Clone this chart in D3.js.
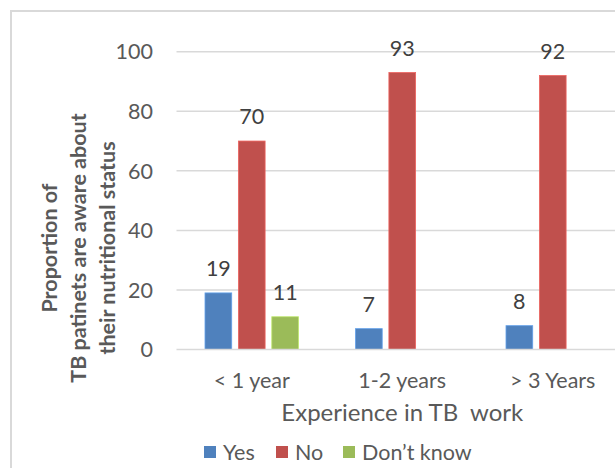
<!DOCTYPE html>
<html>
<head>
<meta charset="utf-8">
<script src="https://cdn.jsdelivr.net/npm/d3@7"></script>
<style>
  html, body { margin: 0; padding: 0; background: #ffffff; }
  svg { display: block; font-family: Lato, "Open Sans", sans-serif; }
</style>
</head>
<body>
<svg id="chart" width="615" height="468"></svg>
<script>
const categories = ["< 1 year", "1-2 years", "> 3 Years"];
const seriesNames = ["Yes", "No", "Don\u2019t know"];
const yesValues = [19, 7, 8];
const noValues = [70, 93, 92];
const dontKnowValues = [11, null, null];
const yTicks = [0, 20, 40, 60, 80, 100];
const colors = ["#4F81BD", "#C0504D", "#9BBB59"];

const series = [yesValues, noValues, dontKnowValues];

const svg = d3.select("#chart");

// outer chart border (extends beyond canvas right/bottom)
svg.append("rect")
  .attr("x", 11).attr("y", 11)
  .attr("width", 700).attr("height", 600)
  .attr("fill", "none").attr("stroke", "#d9d9d9").attr("stroke-width", 2);

const plotLeft = 176.5, plotRight = 628, plotTop = 51.7, plotBottom = 349.5;

const x0 = d3.scaleBand().domain(categories).range([plotLeft, plotRight]).padding(0);
const x1 = d3.scaleBand().domain(d3.range(series.length))
  .range([28.5, x0.bandwidth() - 28.5]).paddingInner(0.2);
const y = d3.scaleLinear().domain([0, 100]).range([plotBottom, plotTop]);

// gridlines
svg.append("g").selectAll("line").data(yTicks.filter(d => d !== 0)).join("line")
  .attr("x1", plotLeft).attr("x2", 640)
  .attr("y1", d => y(d)).attr("y2", d => y(d))
  .attr("stroke", "#d9d9d9").attr("stroke-width", 1.5);

// y tick labels
svg.append("g").selectAll("text").data(yTicks).join("text")
  .attr("x", 153).attr("y", d => y(d))
  .attr("dy", "0.36em")
  .attr("text-anchor", "end")
  .attr("font-size", 21.5)
  .attr("fill", "#595959")
  .text(d => d);

// bars
const groups = svg.append("g").selectAll("g").data(categories).join("g")
  .attr("transform", c => `translate(${x0(c)},0)`);

groups.each(function(c, ci) {
  const g = d3.select(this);
  series.forEach((vals, si) => {
    const v = vals[ci];
    if (v === null || v === undefined) return;
    g.append("rect")
      .attr("x", x1(si)).attr("width", x1.bandwidth())
      .attr("y", y(v)).attr("height", y(0) - y(v))
      .attr("fill", colors[si])
      .attr("stroke", d3.color(colors[si]).brighter(0.6))
      .attr("stroke-width", 0.8);
    g.append("text")
      .attr("x", x1(si) + x1.bandwidth() / 2)
      .attr("y", y(v) - 17)
      .attr("text-anchor", "middle")
      .attr("font-size", 21.5)
      .attr("fill", "#404040")
      .text(v);
  });
});

// x axis baseline
svg.append("line")
  .attr("x1", plotLeft).attr("x2", 640)
  .attr("y1", y(0)).attr("y2", y(0))
  .attr("stroke", "#d9d9d9").attr("stroke-width", 1.5);

// category labels
svg.append("g").selectAll("text").data(categories).join("text")
  .attr("x", c => x0(c) + x0.bandwidth() / 2)
  .attr("y", 388)
  .attr("text-anchor", "middle")
  .attr("font-size", 21.5)
  .attr("fill", "#595959")
  .text(c => c);

// x title
svg.append("text")
  .attr("x", (plotLeft + plotRight) / 2)
  .attr("y", 421)
  .attr("text-anchor", "middle")
  .attr("font-size", 24)
  .attr("fill", "#595959")
  .text("Experience in TB\u00a0 work");

// y title
const yTitleLines = ["Proportion of", "TB patinets are aware about", "their nutritional status"];
const yt = svg.append("text")
  .attr("transform", "translate(0,248) rotate(-90)")
  .attr("text-anchor", "middle")
  .attr("font-size", 21.5)
  .attr("font-weight", "bold")
  .attr("fill", "#595959");
yTitleLines.forEach((l, i) => {
  yt.append("tspan").attr("x", 0).attr("y", 57 + i * 29).text(l);
});

// legend
const legendX = [204, 276, 343];
const lg = svg.append("g").selectAll("g").data(seriesNames).join("g")
  .attr("transform", (d, i) => `translate(${legendX[i]},446)`);
lg.append("rect").attr("width", 12).attr("height", 12).attr("fill", (d, i) => colors[i]);
lg.append("text").attr("x", 19).attr("y", 6).attr("dy", "0.36em")
  .attr("font-size", 21.5).attr("fill", "#595959").text(d => d);
</script>
</body>
</html>
